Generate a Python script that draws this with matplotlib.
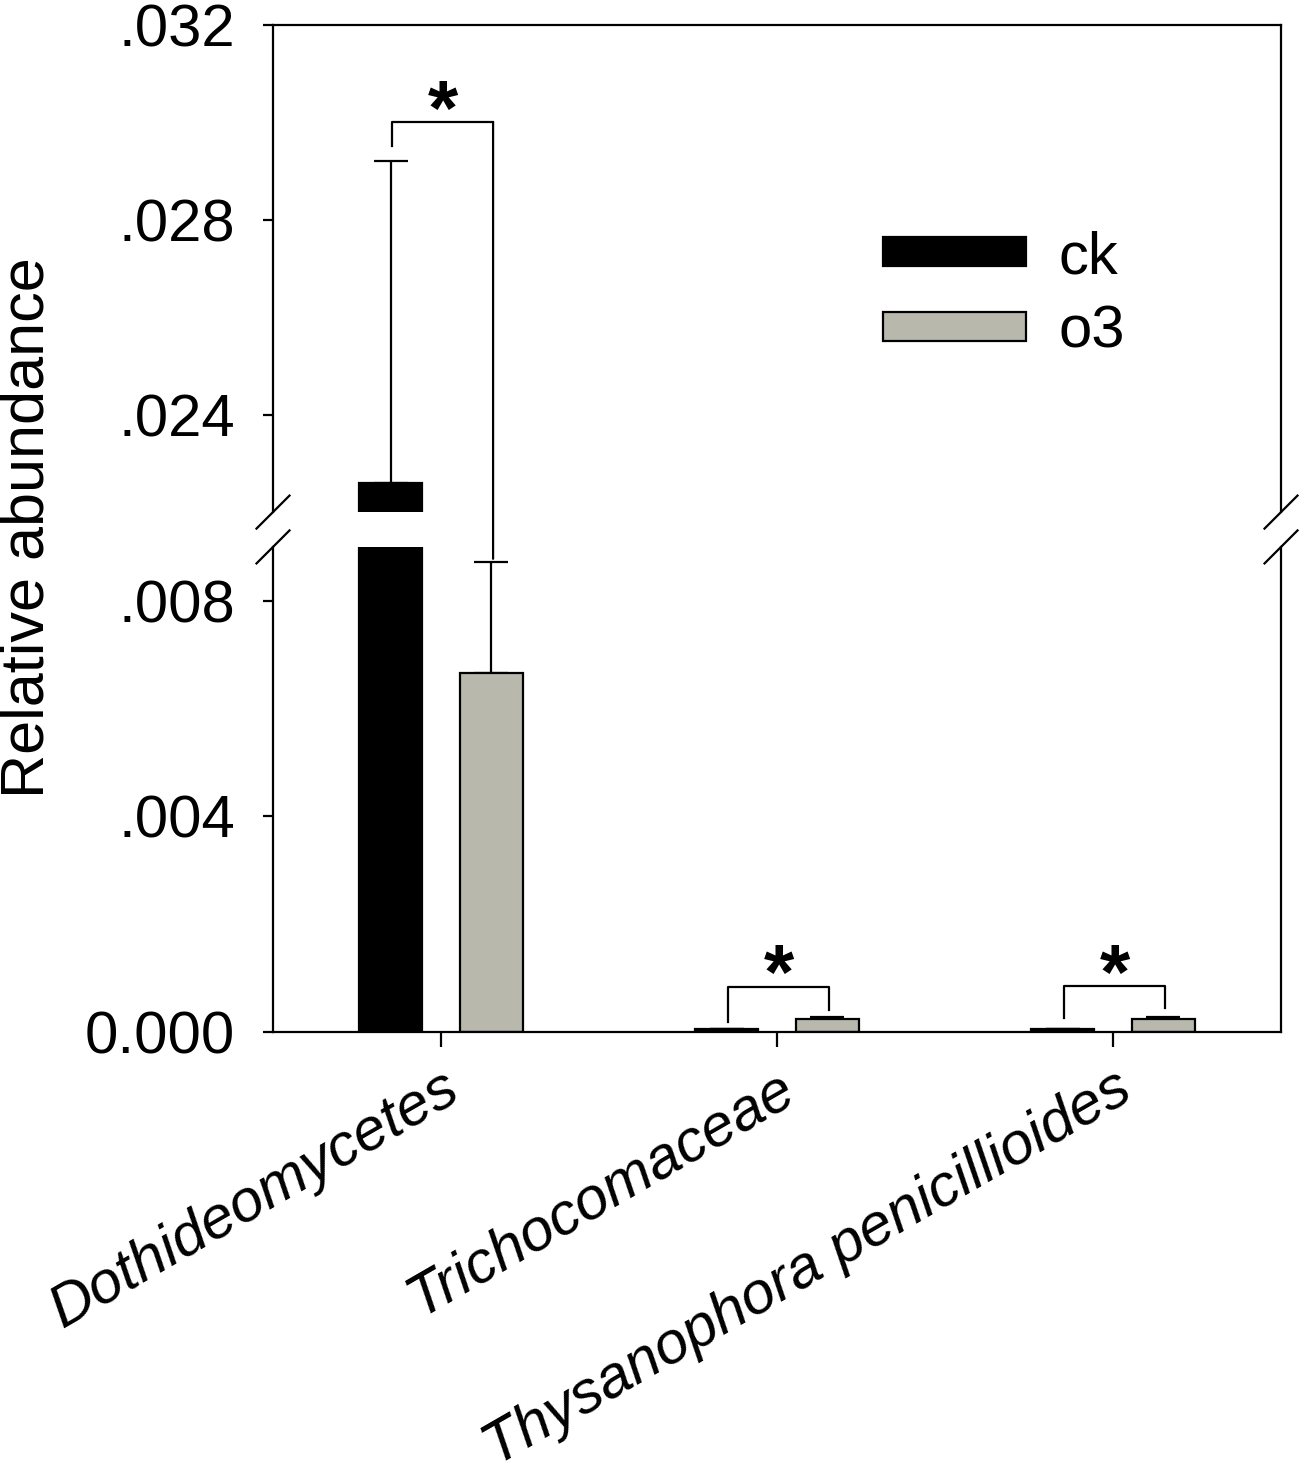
import numpy as np
import matplotlib
matplotlib.use("Agg")
import matplotlib.pyplot as plt
from matplotlib.patches import ConnectionPatch

plt.rcParams['font.family'] = ['Liberation Sans', 'DejaVu Sans']

# data
taxa = ['Dothideomycetes', 'Trichocomaceae', 'Thysanophora penicillioides']
ck_mean = [0.0226, 0.00005, 0.00005]
ck_err = [0.0066, 0.00001, 0.00001]
o3_mean = [0.00667, 0.00024, 0.00024]
o3_err = [0.00205, 0.00004, 0.00004]

# significance brackets: (group, height, left leg bottom, right leg bottom)
brackets = [(0, 0.0300, 0.02951, 0.00878),
            (1, 0.00084, 0.00019, 0.00041),
            (2, 0.00085, 0.00026, 0.00045)]

upper_lim = (0.022, 0.032)
lower_lim = (0.0, 0.009)
upper_ticks = [0.024, 0.028, 0.032]
upper_labels = ['.024', '.028', '.032']
lower_ticks = [0.0, 0.004, 0.008]
lower_labels = ['0.000', '.004', '.008']

ck_color = 'black'
o3_color = '#b8b8ac'
fs = 43
lw = 1.6

x = np.arange(len(taxa))
off = 0.15
w = 0.1875

fig = plt.figure(figsize=(13, 14.77), dpi=100)
left, right = 0.21, 0.9854
ax_hi = fig.add_axes([left, 0.6533, right - left, 0.9831 - 0.6533])
ax_lo = fig.add_axes([left, 0.3013, right - left, 0.6297 - 0.3013])

for ax in (ax_hi, ax_lo):
    ax.bar(x - off, ck_mean, w, color=ck_color, edgecolor='black', linewidth=lw,
           label='ck', zorder=2)
    ax.bar(x + off, o3_mean, w, color=o3_color, edgecolor='black', linewidth=lw,
           label='o3', zorder=2)
    ax.errorbar(x - off, ck_mean, yerr=[np.zeros(3), ck_err], fmt='none',
                ecolor='black', elinewidth=lw, capsize=12.5, capthick=lw, zorder=1)
    ax.errorbar(x + off, o3_mean, yerr=[np.zeros(3), o3_err], fmt='none',
                ecolor='black', elinewidth=lw, capsize=12.5, capthick=lw, zorder=1)
    ax.set_xlim(-0.5, 2.5)
    for sp in ax.spines.values():
        sp.set_linewidth(lw)
    ax.tick_params(axis='y', direction='out', length=7.2, width=lw,
                   labelsize=fs, pad=20)

ax_hi.set_ylim(*upper_lim)
ax_lo.set_ylim(*lower_lim)
ax_hi.set_yticks(upper_ticks)
ax_hi.set_yticklabels(upper_labels)
ax_lo.set_yticks(lower_ticks)
ax_lo.set_yticklabels(lower_labels)

ax_hi.spines['bottom'].set_visible(False)
ax_hi.tick_params(axis='x', bottom=False, labelbottom=False)
ax_lo.spines['top'].set_visible(False)
ax_lo.set_xticks(x)
ax_lo.set_xticklabels(taxa, rotation=30, ha='right', rotation_mode='anchor',
                      fontsize=43, fontstyle='italic')
ax_lo.tick_params(axis='x', direction='out', length=10.8, width=lw, pad=10)

# break marks
d = 16.5
for ax, yfrac in ((ax_hi, 0.0), (ax_lo, 1.0)):
    for xfrac in (0.0, 1.0):
        px, py = ax.transAxes.transform((xfrac, yfrac))
        p0 = fig.transFigure.inverted().transform((px - d, py - d))
        p1 = fig.transFigure.inverted().transform((px + d, py + d))
        fig.add_artist(plt.Line2D([p0[0], p1[0]], [p0[1], p1[1]],
                                  color='black', lw=lw))

# significance brackets
for g, h, yl, yr in brackets:
    xl, xr = g - off + 0.005, g + off + 0.005
    if g == 0:
        ax_s = ax_hi
        ax_hi.plot([xl, xl, xr], [yl, h, h], color='black', lw=lw)
        con = ConnectionPatch((xr, h), (xr, yr), 'data', 'data',
                              axesA=ax_hi, axesB=ax_lo, color='black', lw=lw)
        fig.add_artist(con)
    else:
        ax_s = ax_lo
        ax_lo.plot([xl, xl, xr, xr], [yl, h, h, yr], color='black', lw=lw)
    ax_s.annotate('*', xy=((xl + xr) / 2, h), xytext=(0, -9),
                  textcoords='offset points', ha='center', va='baseline',
                  fontsize=56, fontweight='bold')

ax_hi.legend(loc='upper left', bbox_to_anchor=(0.576, 0.64), frameon=False,
             fontsize=fs, handlelength=2.38, handleheight=0.36,
             handletextpad=0.55, labelspacing=0.33, borderpad=0)

fig.text(0.0215, 0.6425, 'Relative abundance', rotation=90, ha='center',
         va='center', fontsize=44)

fig.savefig('out.png', dpi=100)
